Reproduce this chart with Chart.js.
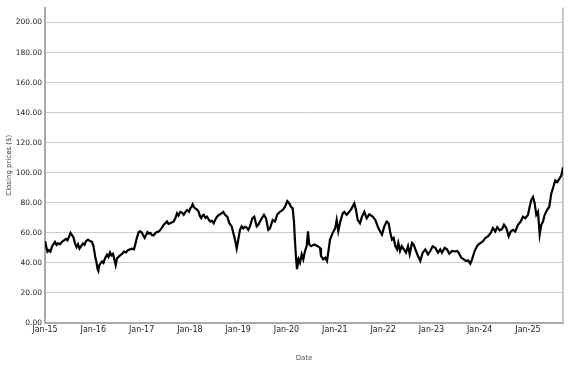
<!DOCTYPE html>
<html><head><meta charset="utf-8">
<script src="https://cdn.jsdelivr.net/npm/chart.js@4"></script>
<style>html,body{margin:0;padding:0;background:#fff}</style>
</head><body>
<canvas id="c" width="577" height="367"></canvas>
<script>
// Trading dates as decimal years, and closing prices ($)
const dates = [
2015.004,2015.031,2015.052,2015.083,2015.114,2015.145,2015.176,2015.207,2015.238,2015.269,
2015.311,2015.352,2015.393,2015.435,2015.466,2015.497,2015.528,2015.559,2015.590,2015.621,
2015.652,2015.683,2015.714,2015.745,2015.787,2015.818,2015.849,2015.890,2015.932,2015.973,
2016.004,2016.025,2016.046,2016.066,2016.087,2016.104,2016.124,2016.149,2016.180,2016.211,
2016.242,2016.284,2016.315,2016.346,2016.377,2016.408,2016.439,2016.464,2016.491,2016.522,
2016.553,2016.594,2016.636,2016.677,2016.718,2016.760,2016.801,2016.843,2016.874,2016.905,
2016.940,2016.977,2017.008,2017.039,2017.064,2017.091,2017.122,2017.153,2017.184,2017.215,
2017.251,2017.288,2017.319,2017.360,2017.387,2017.422,2017.458,2017.495,2017.526,2017.557,
2017.594,2017.629,2017.665,2017.702,2017.733,2017.764,2017.801,2017.836,2017.872,2017.909,
2017.940,2017.981,2018.008,2018.037,2018.058,2018.085,2018.112,2018.147,2018.182,2018.209,
2018.236,2018.261,2018.286,2018.323,2018.354,2018.389,2018.422,2018.458,2018.493,2018.530,
2018.561,2018.602,2018.629,2018.692,2018.727,2018.774,2018.816,2018.865,2018.899,2018.934,
2018.969,2019.002,2019.037,2019.072,2019.105,2019.141,2019.175,2019.209,2019.244,2019.292,
2019.333,2019.383,2019.416,2019.487,2019.534,2019.576,2019.623,2019.658,2019.714,2019.762,
2019.810,2019.865,2019.921,2019.969,2020.017,2020.058,2020.093,2020.128,2020.155,2020.176,
2020.197,2020.217,2020.253,2020.280,2020.315,2020.348,2020.383,2020.418,2020.445,2020.472,
2020.507,2020.576,2020.646,2020.694,2020.714,2020.762,2020.803,2020.839,2020.874,2020.901,
2020.957,2021.010,2021.039,2021.073,2021.114,2021.164,2021.197,2021.246,2021.300,2021.350,
2021.404,2021.439,2021.474,2021.522,2021.563,2021.611,2021.660,2021.714,2021.785,2021.839,
2021.888,2021.936,2021.977,2022.025,2022.075,2022.116,2022.149,2022.184,2022.219,2022.253,
2022.288,2022.315,2022.350,2022.385,2022.430,2022.474,2022.516,2022.551,2022.598,2022.634,
2022.681,2022.723,2022.770,2022.820,2022.874,2022.930,2022.977,2023.027,2023.081,2023.137,
2023.184,2023.219,2023.275,2023.323,2023.371,2023.427,2023.483,2023.530,2023.565,2023.619,
2023.669,2023.716,2023.758,2023.805,2023.841,2023.896,2023.944,2023.965,2024.021,2024.068,
2024.116,2024.172,2024.228,2024.275,2024.323,2024.364,2024.414,2024.462,2024.503,2024.551,
2024.601,2024.642,2024.690,2024.737,2024.793,2024.849,2024.897,2024.944,2025.000,2025.035,
2025.068,2025.104,2025.139,2025.172,2025.207,2025.242,2025.275,2025.311,2025.346,2025.394,
2025.441,2025.482,2025.524,2025.565,2025.607,2025.648,2025.690,2025.725
];
const closes = [
54.5,50,47.5,48.5,47.5,51,52.5,54,52,53,
52.5,54,55,56,55,57.5,60,58.5,57,53,
50.5,52.5,49.5,51,53,52,54.5,55.5,54.5,54,
51,47,43,40.5,36,34.7,38.5,39.5,41,40,
43,45.5,44,47,45,46,42,38.5,43,44,
45,46,47.5,47,48.5,49,49.5,49,53,57,
60.5,61,60,58,56.6,58.5,60.5,59.5,60,58.5,
58.4,60,60.5,61,62,63.5,65.4,66.5,67.5,66,
66.4,67,67.5,70,73,71.5,74,73.5,72,74,
75.2,74,76.3,77.5,79,77,76.3,75.5,74,71,
69.7,71.5,72,70,70.8,69,67.5,68,66.4,69,
70.8,72,72.3,74,72,70.8,66.4,64.3,60,55.5,
49.6,55.5,62,64.3,63,64,63.5,62,64.3,69.7,
70.8,64.3,65.4,69.7,72,69.7,62,63,68.6,67.5,
72.3,74,75.2,77.4,81.1,79.6,77.4,76.3,67.5,54.4,
43.5,35.9,42.4,40.2,45.7,42.4,47.9,51.1,61,52.2,
51.1,52.2,51.1,50,44.6,42.4,43.5,41.3,49,55.5,
60,63.2,68.6,61,67.5,73,74,72,74,76.3,
79.6,75.2,68.6,66.4,70.8,74,69.7,72.3,70.8,68.6,
64.3,61,58.8,64.3,67.5,66.4,60,55.5,56.6,51.1,
49,53.3,47.9,51.1,49,46.8,51.1,45.7,53.3,52.2,
47.9,44.6,41.3,46.8,49,45.7,47.9,51.1,50,46.8,
49,46.8,50,49,46.1,47.9,47.6,47.9,46.8,43.5,
42.4,41.3,41.7,39.5,42.4,47.9,51.1,52,53.3,54.4,
56.6,57.7,60,63.2,60.9,63.8,61.7,62.5,65.4,63.2,
57.7,60.9,62,60.9,65.4,67.5,70.8,69.7,72,77.4,
81.8,83.9,79.6,72,74,58.8,65.4,67.5,72,75.2,
77.4,86.1,90.5,94.9,93.8,95.9,98.1,103.6
];
const firstYear = 2015;
const yMin = 0, yMax = 210, yStep = 20;
const xTitle = 'Date';
const yTitle = 'Closing prices ($)';

Chart.defaults.font.family = "'DejaVu Sans', Verdana, sans-serif";

const rightBorder = {
  id: 'rightBorder',
  beforeDatasetsDraw(chart) {
    const {ctx, chartArea: a} = chart;
    ctx.save();
    ctx.strokeStyle = '#bbbbbb';
    ctx.lineWidth = 1.5;
    ctx.beginPath();
    ctx.moveTo(a.right, a.top);
    ctx.lineTo(a.right, a.bottom);
    ctx.stroke();
    ctx.restore();
  }
};

new Chart(document.getElementById('c'), {
  type: 'line',
  data: {
    datasets: [{
      data: dates.map((d, i) => ({x: d, y: closes[i]})),
      borderColor: '#000',
      borderWidth: 2.2,
      borderJoinStyle: 'miter',
      pointRadius: 0,
      tension: 0,
      fill: false
    }]
  },
  options: {
    responsive: false,
    animation: false,
    layout: {padding: {top: 3, right: 14, left: 0, bottom: 0}},
    plugins: {legend: {display: false}, tooltip: {enabled: false}},
    scales: {
      x: {
        type: 'linear',
        min: firstYear,
        max: dates[dates.length - 1],
        grid: {display: false, drawTicks: false},
        border: {display: true, color: '#aaaaaa', width: 2},
        ticks: {
          stepSize: 1, includeBounds: false, autoSkip: false, maxRotation: 0,
          padding: 2, color: '#222', font: {size: 8},
          callback: v => 'Jan-' + String(v).slice(2)
        },
        title: {display: true, text: xTitle, color: '#555', font: {size: 7}, padding: {top: 4, bottom: 5}},
        afterFit: s => { s.height = 44; }
      },
      y: {
        min: yMin, max: yMax,
        grid: {color: '#cccccc', lineWidth: 1, drawTicks: false},
        border: {display: true, color: '#aaaaaa', width: 2},
        ticks: {
          stepSize: yStep, includeBounds: false, padding: 3, color: '#222', font: {size: 7.5},
          callback: v => v.toFixed(2)
        },
        title: {display: true, text: yTitle, color: '#333', font: {size: 7}, padding: {top: 5, bottom: 0}},
        afterFit: s => { s.width = 45; }
      }
    }
  },
  plugins: [rightBorder]
});
</script>
</body></html>
